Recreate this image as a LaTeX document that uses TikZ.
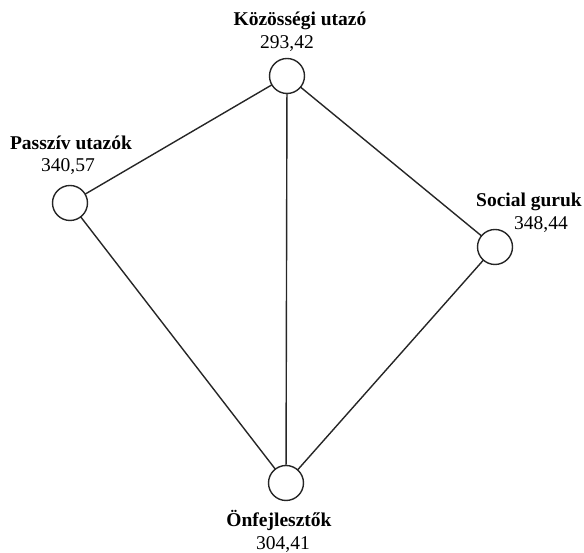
\documentclass[tikz,border=0pt]{standalone}
\usepackage{fontspec}
\setmainfont{Liberation Serif}
\usetikzlibrary{positioning}

\begin{document}
\begin{tikzpicture}[x=1pt,y=1pt,
	station/.style={circle,draw=black!85,line width=1.4pt,fill=white,minimum size=35pt,inner sep=0pt,outer sep=0pt},
	tag/.style={anchor=base,inner sep=0pt,font=\fontsize{19.5}{23}\selectfont\bfseries},
	score/.style={anchor=base,inner sep=0pt,font=\fontsize{19.5}{23}\selectfont},
	link/.style={draw=black!85,line width=1.4pt}]
	\useasboundingbox (0,0) rectangle (584,553);

	% the four groups
	\node [station] at (287,477) (kozossegi) {};
	\node [station] at (70,350) (passziv) {};
	\node [station] at (495,306) (social) {};
	\node [station] at (286,70) (onfejleszto) {};

	% names and scores
	\node [tag] at (300,527) (kozossegi_tag) {Közösségi utazó};
	\node [score] at (287,504) (kozossegi_score) {293,42};
	\node [tag] at (71,403) (passziv_tag) {Passzív utazók};
	\node [score] at (68,381) (passziv_score) {340,57};
	\node [tag] at (529,346) (social_tag) {Social guruk};
	\node [score] at (541,323) (social_score) {348,44};
	\node [tag] at (279,26) (onfejleszto_tag) {Önfejlesztők};
	\node [score] at (283,3) (onfejleszto_score) {304,41};

	% edges
	\draw [link] (kozossegi) -- (passziv);
	\draw [link] (kozossegi) -- (onfejleszto);
	\draw [link] (kozossegi) -- (social);
	\draw [link] (passziv) -- (onfejleszto);
	\draw [link] (social) -- (onfejleszto);
\end{tikzpicture}
\end{document}
